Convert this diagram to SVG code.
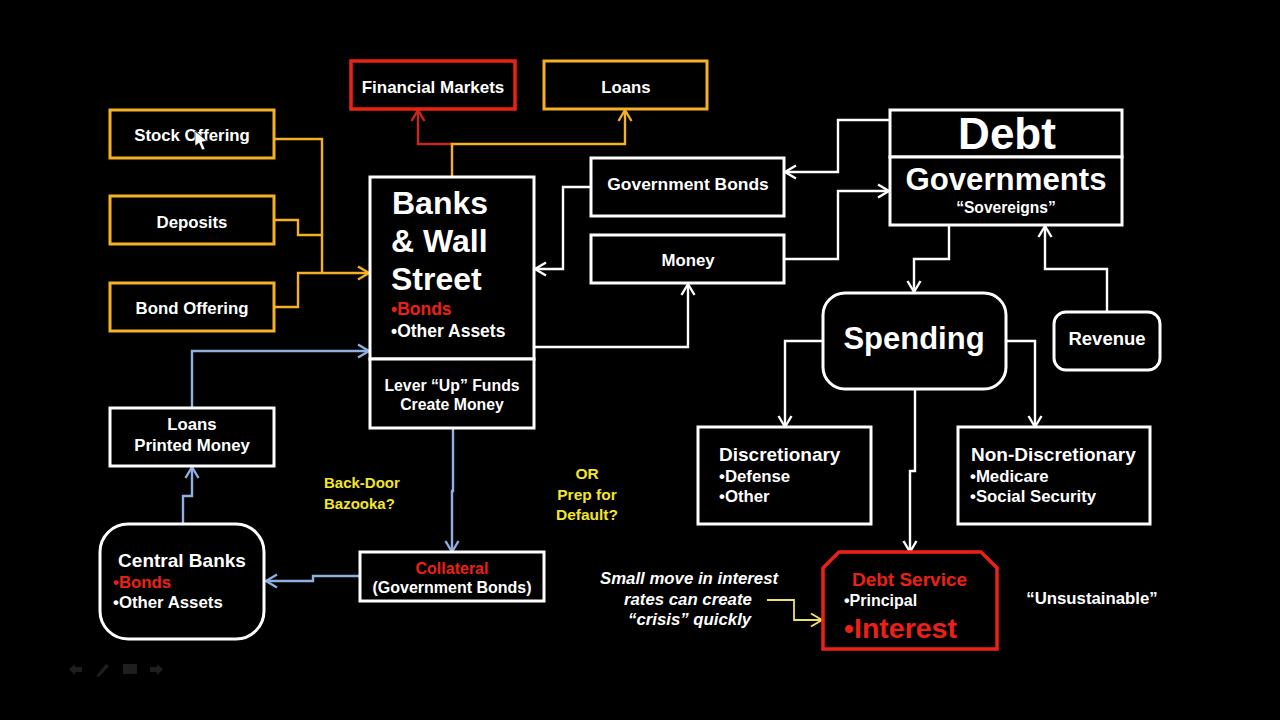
<svg xmlns="http://www.w3.org/2000/svg" width="1280" height="720" viewBox="0 0 1280 720">
<style>
text{font-family:"Liberation Sans",Arial,sans-serif;font-weight:700;fill:#fff;font-size:16.8px}
.m{text-anchor:middle}
.r{fill:#ed2016}
.y{fill:#f2e52e;font-size:15px}
.box{fill:#000;stroke:#fff;stroke-width:3}
.org{fill:#000;stroke:#f6b026;stroke-width:3}
.red{fill:#000;stroke:#ed2016;stroke-width:3.5}
.c{fill:none;stroke-width:2.4}
.w{stroke:#fff}.o{stroke:#f6b026}.b{stroke:#8fb0e0}.rl{stroke:#c9281c}.yl{stroke:#ecdf6a;stroke-width:1.8}
</style>
<defs>
<marker id="aw" markerUnits="userSpaceOnUse" markerWidth="16" markerHeight="18" refX="13" refY="8" orient="auto"><path d="M2 1.5L13 8L2 14.5" fill="none" stroke="#fff" stroke-width="2.4"/></marker>
<marker id="ao" markerUnits="userSpaceOnUse" markerWidth="16" markerHeight="18" refX="13" refY="8" orient="auto"><path d="M2 1.5L13 8L2 14.5" fill="none" stroke="#f6b026" stroke-width="2.4"/></marker>
<marker id="ab" markerUnits="userSpaceOnUse" markerWidth="16" markerHeight="18" refX="13" refY="8" orient="auto"><path d="M2 1.5L13 8L2 14.5" fill="none" stroke="#8fb0e0" stroke-width="2.4"/></marker>
<marker id="ar" markerUnits="userSpaceOnUse" markerWidth="16" markerHeight="18" refX="13" refY="8" orient="auto"><path d="M2 1.5L13 8L2 14.5" fill="none" stroke="#c9281c" stroke-width="2.4"/></marker>
<marker id="ay" markerUnits="userSpaceOnUse" markerWidth="16" markerHeight="18" refX="13" refY="8" orient="auto"><path d="M2 1.5L13 8L2 14.5" fill="none" stroke="#ecdf6a" stroke-width="2"/></marker>
</defs>
<rect width="1280" height="720" fill="#000"/>
<g id="connectors">
<path class="c o" d="M274 139H322V273"/>
<path class="c o" d="M274 220H298V235H322"/>
<path class="c o" d="M274 307H298V273H369" marker-end="url(#ao)"/>
<path class="c rl" d="M452 144H418V110" marker-end="url(#ar)"/>
<path class="c o" d="M452 177V144H625V110" marker-end="url(#ao)"/>
<path class="c w" d="M591 187H563V269H535" marker-end="url(#aw)"/>
<path class="c w" d="M534 347H688V284" marker-end="url(#aw)"/>
<path class="c w" d="M890 120H838V172H785" marker-end="url(#aw)"/>
<path class="c w" d="M784 259H838V191H889" marker-end="url(#aw)"/>
<path class="c w" d="M949 225V259H914V292" marker-end="url(#aw)"/>
<path class="c w" d="M1107 312V269H1045V226" marker-end="url(#aw)"/>
<path class="c w" d="M823 341H785V427" marker-end="url(#aw)"/>
<path class="c w" d="M1006 341H1035V427" marker-end="url(#aw)"/>
<path class="c w" d="M915 389V471H910V552" marker-end="url(#aw)"/>
<path class="c b" d="M192 408V351H369" marker-end="url(#ab)"/>
<path class="c b" d="M183 524V496H192V467" marker-end="url(#ab)"/>
<path class="c b" d="M453 428V491H452V552" marker-end="url(#ab)"/>
<path class="c b" d="M360 576H313V581H266" marker-end="url(#ab)"/>
<path class="c yl" d="M767 600H794V620H822" marker-end="url(#ay)"/>
</g>
<g id="stock"><rect class="org" x="110" y="110" width="164" height="48"/><text class="m" x="192" y="141">Stock Offering</text></g>
<g id="deposits"><rect class="org" x="110" y="196" width="164" height="48"/><text class="m" x="192" y="228">Deposits</text></g>
<g id="bond"><rect class="org" x="110" y="283" width="164" height="48"/><text class="m" x="192" y="314">Bond Offering</text></g>
<g id="markets"><rect class="red" x="351" y="61" width="164" height="48"/><text class="m" x="433" y="93" style="font-size:17px">Financial Markets</text></g>
<g id="loans"><rect class="org" x="544" y="61" width="163" height="48"/><text class="m" x="626" y="93">Loans</text></g>
<g id="banks"><rect class="box" x="370" y="177" width="164" height="182"/><rect class="box" x="370" y="359" width="164" height="69"/>
<text x="392" y="214" style="font-size:32px">Banks</text><text x="391" y="252" style="font-size:32px">&amp; Wall</text><text x="391" y="290" style="font-size:32px">Street</text>
<text x="391" y="315" class="r" style="font-size:17.5px">•Bonds</text><text x="391" y="337" style="font-size:17.5px">•Other Assets</text>
<text class="m" x="452" y="391" style="font-size:15.8px">Lever “Up” Funds</text><text class="m" x="452" y="410" style="font-size:15.8px">Create Money</text></g>
<g id="govbonds"><rect class="box" x="591" y="158" width="193" height="58"/><text class="m" x="688" y="190" style="font-size:17.4px">Government Bonds</text></g>
<g id="money"><rect class="box" x="591" y="235" width="193" height="48"/><text class="m" x="688" y="266">Money</text></g>
<g id="debt"><rect class="box" x="890" y="110" width="232" height="47"/><rect class="box" x="890" y="157" width="232" height="68"/>
<text class="m" x="1007" y="149" style="font-size:44px">Debt</text><text class="m" x="1006" y="190" style="font-size:31.2px">Governments</text><text class="m" x="1006" y="213" style="font-size:15.6px">“Sovereigns”</text></g>
<g id="spending"><rect class="box" x="823" y="293" width="183" height="96" rx="22"/><text class="m" x="914" y="349" style="font-size:31px">Spending</text></g>
<g id="revenue"><rect class="box" x="1054" y="312" width="106" height="58" rx="12"/><text class="m" x="1107" y="345" style="font-size:18.5px">Revenue</text></g>
<g id="disc"><rect class="box" x="698" y="427" width="173" height="97"/><text x="719" y="461" style="font-size:19px">Discretionary</text><text x="719" y="482">•Defense</text><text x="719" y="502">•Other</text></g>
<g id="nondisc"><rect class="box" x="958" y="427" width="192" height="97"/><text x="971" y="461" style="font-size:19px">Non-Discretionary</text><text x="970" y="482">•Medicare</text><text x="970" y="502">•Social Security</text></g>
<g id="service"><path class="red" d="M839 552H981L997 568V649H823V568Z"/><text class="m r" x="909.500" y="586" style="font-size:19px">Debt Service</text><text x="844" y="606" style="font-size:16px">•Principal</text><text x="844" y="638" class="r" style="font-size:28.500px">•Interest</text></g>
<g id="central"><rect class="box" x="100" y="524" width="164" height="115" rx="28"/><text class="m" x="182" y="567" style="font-size:19px">Central Banks</text><text x="113" y="588" class="r">•Bonds</text><text x="113" y="608">•Other Assets</text></g>
<g id="printed"><rect class="box" x="110" y="408" width="164" height="58"/><text class="m" x="192" y="430">Loans</text><text class="m" x="192" y="451">Printed Money</text></g>
<g id="collateral"><rect class="box" x="360" y="552" width="184" height="49"/><text class="m r" x="452" y="574" style="font-size:16px">Collateral</text><text class="m" x="452" y="593" style="font-size:16px">(Government Bonds)</text></g>
<g id="notes">
<text class="y" x="324" y="488">Back-Door</text><text class="y" x="324" y="509">Bazooka?</text>
<text class="y m" x="587" y="479" style="font-size:15.500px">OR</text><text class="y m" x="587" y="500" style="font-size:15.500px">Prep for</text><text class="y m" x="587" y="520" style="font-size:15.500px">Default?</text>
<text x="600" y="584" style="font-size:16.800px;font-style:italic">Small move in interest</text><text x="624" y="605" style="font-size:16.800px;font-style:italic">rates can create</text><text x="628" y="625" style="font-size:16.800px;font-style:italic">“crisis” quickly</text>
<text class="m" x="1092" y="604">“Unsustainable”</text>
</g>
<g id="cursor"><path d="M195 131V146L199 143L202 150L205 149L202 142L207 141Z" fill="#fff" stroke="#000" stroke-width=".6"/></g>
<g id="toolbar" fill="#1e1e1e">
<path d="M69 669L75 664V667H82V672H75V675Z"/>
<path d="M97 675L106 664L109 666L100 676L96 677Z"/>
<rect x="123" y="664" width="14" height="10" rx="1"/>
<path d="M163 669L157 664V667H150V672H157V675Z"/>
</g>
</svg>
